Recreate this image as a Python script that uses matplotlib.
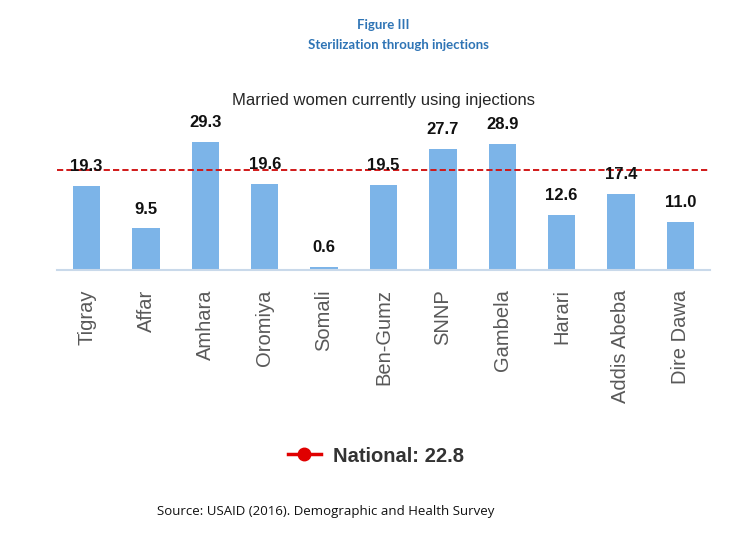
import matplotlib.pyplot as plt
from matplotlib.lines import Line2D

regions = ["Tigray", "Affar", "Amhara", "Oromiya", "Somali", "Ben-Gumz",
           "SNNP", "Gambela", "Harari", "Addis Abeba", "Dire Dawa"]
values = [19.3, 9.5, 29.3, 19.6, 0.6, 19.5, 27.7, 28.9, 12.6, 17.4, 11.0]
national = 22.8

W, H = 756, 547
fig = plt.figure(figsize=(W / 100, H / 100), dpi=100)
plt.rcParams['font.family'] = ['Liberation Sans', 'DejaVu Sans']

# axes placed in pixel terms: baseline at y=270, x from 57 to 710
ax = fig.add_axes([57 / W, 1 - 270 / H, 653 / W, 153 / H])
ax.bar(range(len(values)), values, width=0.46, color="#7cb4e8", zorder=2)
ax.set_xlim(-0.5, len(values) - 0.5)
ax.set_ylim(0, 35)

# national average as dashed line
ax.axhline(national, color="#d01818", ls=(0, (3.2, 1.6)), lw=1.4, zorder=3)

# value labels
for i, v in enumerate(values):
    ax.annotate(f"{v:.1f}", (i, v), xytext=(0, 14), textcoords="offset points",
                ha="center", va="center", fontsize=12, fontweight="bold",
                color="#111111", zorder=4)

ax.set_xticks(range(len(regions)))
ax.set_xticklabels(regions, rotation=90, fontsize=14.5, color="#595959")
ax.tick_params(axis="x", length=0, pad=14)
ax.set_yticks([])
for s in ["top", "right", "left"]:
    ax.spines[s].set_visible(False)
ax.spines["bottom"].set_color("#c9d9ea")
ax.spines["bottom"].set_linewidth(1.5)

# titles
fig.text(383 / W, 1 - 25 / H, "Figure III", ha="center", va="center",
         fontsize=9.5, fontweight="bold", color="#2e74b5", family="Lato")
fig.text(398 / W, 1 - 45 / H, "Sterilization through injections", ha="center",
         va="center", fontsize=9.5, fontweight="bold", color="#2e74b5",
         family="Lato")
fig.text(384 / W, 1 - 101 / H, "Married women currently using injections",
         ha="center", va="center", fontsize=12, color="#262626")

# legend
leg_handle = Line2D([], [], color="#e00000", lw=2.5, marker="o", markersize=9)
fig.legend([leg_handle], [f"National: {national}"], loc="center",
           bbox_to_anchor=(376 / W, 1 - 456 / H), frameon=False,
           prop={"size": 14.5, "weight": "bold"}, labelcolor="#333333",
           handlelength=1.6, handletextpad=0.6)

fig.text(157 / W, 1 - 512 / H, "Source: USAID (2016). Demographic and Health Survey",
         ha="left", va="center", fontsize=9.5, color="#111111", family="Open Sans")

fig.savefig("out.png", dpi=100)
